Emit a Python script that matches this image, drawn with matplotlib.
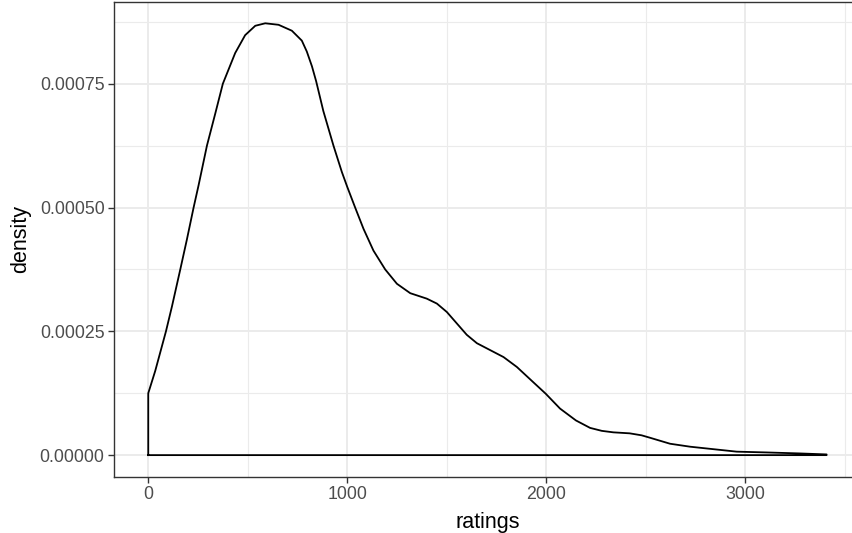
import matplotlib
matplotlib.use("agg")
import matplotlib.pyplot as plt
from matplotlib.ticker import FixedLocator, FuncFormatter

# density estimate of ratings
ratings = [0, 35, 89, 119, 161, 194, 228, 253, 295, 337, 375, 437, 487, 538,
           588, 655, 722, 772, 797, 823, 844, 880, 931, 973, 1000, 1040, 1082,
           1132, 1191, 1250, 1317, 1400, 1451, 1501, 1551, 1601, 1652, 1719,
           1786, 1853, 1920, 1998, 2070, 2150, 2221, 2280, 2338, 2420, 2480,
           2523, 2623, 2724, 2841, 2958, 3109, 3276, 3410]
density = [1.25e-4, 1.70e-4, 2.50e-4, 3.00e-4, 3.75e-4, 4.35e-4, 5.00e-4,
           5.45e-4, 6.25e-4, 6.90e-4, 7.50e-4, 8.12e-4, 8.48e-4, 8.67e-4,
           8.72e-4, 8.69e-4, 8.57e-4, 8.37e-4, 8.15e-4, 7.85e-4, 7.55e-4,
           6.95e-4, 6.25e-4, 5.72e-4, 5.42e-4, 5.00e-4, 4.57e-4, 4.13e-4,
           3.75e-4, 3.46e-4, 3.27e-4, 3.16e-4, 3.06e-4, 2.89e-4, 2.66e-4,
           2.43e-4, 2.26e-4, 2.12e-4, 1.98e-4, 1.78e-4, 1.53e-4, 1.24e-4,
           9.4e-5, 7.0e-5, 5.5e-5, 4.9e-5, 4.6e-5, 4.4e-5, 4.0e-5, 3.5e-5,
           2.3e-5, 1.7e-5, 1.2e-5, 7.0e-6, 5.4e-6, 3.4e-6, 1.4e-6]
x_ticks = [0, 1000, 2000, 3000]
y_ticks = [0.0, 0.00025, 0.0005, 0.00075]

plt.rcParams['font.family'] = ['Liberation Sans', 'DejaVu Sans']

fig = plt.figure(figsize=(8.52, 5.33), dpi=100)
# panel runs past the right edge of the image, as in the reference
ax = fig.add_axes([0.1342, 0.1056, 0.8758, 0.8912])

# closed outline like geom_density
px = [ratings[0]] + ratings + [ratings[-1], ratings[0]]
py = [0] + density + [0, 0]
ax.plot(px, py, color='black', lw=1.3, solid_joinstyle='round', zorder=3)

xmax = max(ratings)
ymax = max(density)
ax.set_xlim(-0.05 * xmax, 1.05 * xmax)
ax.set_ylim(-0.05 * ymax, 1.05 * ymax)

ax.xaxis.set_major_locator(FixedLocator(x_ticks))
ax.xaxis.set_minor_locator(FixedLocator([500, 1500, 2500, 3500]))
ax.yaxis.set_major_locator(FixedLocator(y_ticks))
ax.yaxis.set_minor_locator(FixedLocator([0.000125, 0.000375, 0.000625, 0.000875]))
ax.xaxis.set_major_formatter(FuncFormatter(lambda v, p: '%d' % v))
ax.yaxis.set_major_formatter(FuncFormatter(lambda v, p: '%.5f' % v))

ax.grid(which='major', color='#EBEBEB', lw=1.4, zorder=0)
ax.grid(which='minor', color='#EBEBEB', lw=0.8, zorder=0)
ax.set_axisbelow(True)

for s in ax.spines.values():
    s.set_color('#333333')
    s.set_linewidth(1.0)
ax.spines['right'].set_visible(False)

ax.tick_params(which='major', length=4.0, width=1.0, color='#333333',
               labelsize=12.8, labelcolor='#4D4D4D', pad=3)
ax.tick_params(which='minor', length=0)

ax.set_xlabel('ratings', fontsize=15.5, labelpad=6)
ax.set_ylabel('density', fontsize=15.5, labelpad=6)

fig.savefig('out.png', dpi=100)
plt.close(fig)
